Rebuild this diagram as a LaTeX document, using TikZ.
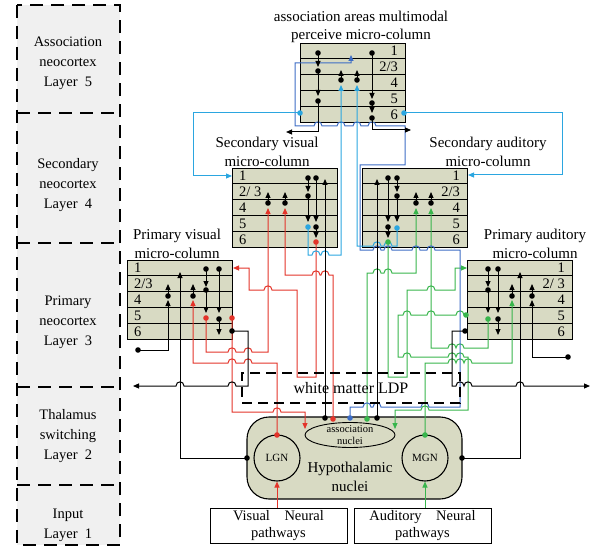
\documentclass[tikz,border=0pt]{standalone}
\usepackage{fontspec}
\setmainfont{Liberation Serif}
\usetikzlibrary{arrows.meta,shapes.geometric}
\definecolor{khaki}{HTML}{D8DAC3}
\definecolor{lgray}{HTML}{F0F0F0}
\definecolor{rd}{HTML}{E3342A}
\definecolor{gn}{HTML}{38B54C}
\definecolor{lb}{HTML}{2BA6E0}
\definecolor{db}{HTML}{3D6DC5}
\newcommand\hopR[2]{-- (#1-4,#2) .. controls (#1-4,#2-5.5) and (#1+4,#2-5.5) .. (#1+4,#2)}
\newcommand\hopL[2]{-- (#1+4,#2) .. controls (#1+4,#2-5.5) and (#1-4,#2-5.5) .. (#1-4,#2)}
\newcommand\dotA[3][black]{\fill[#1] (#2,#3) circle[radius=2.8pt];}
\newcommand\numf{\fontsize{14.5}{14.5}\selectfont}
\newcommand\mcol[3]{%
  \node[draw, line width=1.1pt, fill=khaki, minimum width=105pt, minimum height=79pt, anchor=north west] (#1) at (#2,#3) {};
  \foreach \k in {1,...,4} \draw[line width=0.9pt] (#2,#3+\k*15.8) -- (#2+105,#3+\k*15.8);}
\newcommand\labsL[3]{\foreach \t [count=\i] in {#3} \node[anchor=base west, font=\numf] at (#1+7,#2+\i*15.8-2.9) {\t};}
\newcommand\labsR[3]{\foreach \t [count=\i] in {#3} \node[anchor=base east, font=\numf] at (#1+98,#2+\i*15.8-2.9) {\t};}
\begin{document}
\begin{tikzpicture}[x=1pt,y=-1pt, >={Triangle[length=6pt,width=5pt]},
  w/.style={line width=1pt}, every node/.style={inner sep=0pt},
  lay/.style={align=center, font=\fontsize{14.5}{20}\selectfont},
  ttl/.style={align=center, font=\fontsize{15}{18.5}\selectfont}]
\useasboundingbox (0,0) rectangle (602,548);
% ---------- layer boxes
\fill[lgray] (17,5) rectangle (120,545);
\draw[line width=2.5pt, dash pattern=on 13pt off 8pt] (17,5) rectangle (120,545);
\foreach \yy in {113,243,387,485} \draw[line width=2.5pt, dash pattern=on 13pt off 8pt] (17,\yy) -- (120,\yy);
\node[lay] (L5) at (68,63) {Association\\neocortex\\Layer~~5};
\node[lay] (L4) at (68,185) {Secondary\\neocortex\\Layer~~4};
\node[lay] (L3) at (68,322) {Primary\\neocortex\\Layer~~3};
\node[lay] (L2) at (68,436) {Thalamus\\switching\\Layer~~2};
\node[lay] (L1) at (68,525) {Input\\Layer~~1};
% ---------- titles
\node[ttl] (tA) at (361,27) {association areas multimodal\\perceive micro-column};
\node[ttl] (tSV) at (267,152) {Secondary visual\\micro-column};
\node[ttl] (tSA) at (488,152) {Secondary auditory\\micro-column};
\node[ttl] (tPV) at (177,244) {Primary visual\\micro-column};
\node[ttl] (tPA) at (535,244) {Primary auditory\\micro-column};
% ---------- columns
\mcol{ac}{300}{43}
\mcol{sv}{232}{168}
\mcol{sa}{362}{168}
\mcol{pv}{127}{260}
\mcol{pa}{467}{260}
\labsR{300}{43}{1,{2/3},4,5,6}
\labsL{232}{168}{1,{2/ 3},4,5,6}
\labsR{362}{168}{1,{2/3},4,5,6}
\labsL{127}{260}{1,{2/3},4,5,6}
\labsR{467}{260}{1,{2/ 3},4,5,6}
% ---------- thalamus
\node[draw, line width=1.1pt, fill=khaki, rounded corners=22pt, minimum width=215pt, minimum height=82pt] (hypo) at (354.5,458) {};
\node[draw, ellipse, line width=0.9pt, minimum width=90pt, minimum height=25pt] (an) at (350,435) {};
\node[align=center, font=\fontsize{10.5}{12}\selectfont] at (an) {association\\nuclei};
\node[draw, circle, line width=1.1pt, minimum size=46pt, font=\fontsize{11}{11}\selectfont] (lgn) at (277,458) {LGN};
\node[draw, circle, line width=1.1pt, minimum size=46pt, font=\fontsize{11}{11}\selectfont] (mgn) at (425,458) {MGN};
\node[align=center, font=\fontsize{15}{19}\selectfont] (hn) at (350,477) {Hypothalamic\\nuclei};
\node[draw, line width=0.9pt, minimum width=137pt, minimum height=35pt, align=center, font=\fontsize{14.5}{17}\selectfont] (vis) at (278.5,525.5) {Visual\quad Neural\\pathways};
\node[draw, line width=0.9pt, minimum width=137pt, minimum height=35pt, align=center, font=\fontsize{14.5}{17}\selectfont] (aud) at (422.5,525.5) {Auditory\quad Neural\\pathways};
\draw[w,rd,->] (vis.north -| lgn) -- (lgn.south);
\draw[w,gn,->] (aud.north -| mgn) -- (mgn.south);
% ---------- red
\draw[w,rd,->] (277,435) -- (277,363) \hopL{248}{363} \hopL{232}{363} -- (193,363) -- (193,300);
\draw[w,rd,->] (206,318) -- (206,352) \hopR{232}{352} \hopR{248}{352} -- (268,352) -- (268,208);
\draw[w,rd,->] (232,318) -- (232,412) \hopR{277}{412} -- (305,412) -- (305,429);
\draw[w,rd,->] (333,419) -- (333,275) \hopL{325}{275} \hopL{316}{275} -- (285,275) -- (285,208);
\draw[w,rd,->] (316,242) -- (316,377) -- (297,377) -- (297,290) \hopL{268}{290} -- (249,290) -- (249,268) -- (233,268);
% ---------- green
\draw[w,gn,->] (425,435) -- (425,363) \hopR{452}{363} \hopR{460}{363} \hopR{468}{363} -- (512,363) -- (512,300);
\draw[w,gn,->] (488,319) -- (488,348) \hopL{460}{348} \hopL{452}{348} -- (431,348) -- (431,208);
\draw[w,gn,->] (466,315) \hopL{460}{315} \hopL{431}{315} \hopL{407}{315} -- (398,315) -- (398,357) \hopR{407}{357} \hopR{452}{357} \hopR{460}{357} -- (468,357) -- (468,410) \hopL{425}{410} -- (395,410) -- (395,429);
\draw[w,gn,->] (367,419) -- (367,273) \hopR{377}{273} \hopR{388}{273} -- (416,273) -- (416,208);
\draw[w,gn,->] (388,242) -- (388,377) -- (407,377) -- (407,290) \hopR{431}{290} -- (455,290) -- (455,268) -- (467,268);
% ---------- blue
\draw[w,db,->] (350,418) -- (350,407) \hopR{367}{407} \hopR{377}{407} \hopR{425}{407} -- (460,407) -- (460,250) \hopL{431}{250} \hopL{416}{250} \hopL{388}{250} \hopL{377}{250} -- (360,250) -- (360,165) -- (405,165) -- (405,126) \hopL{372}{126} \hopL{357}{126} \hopL{341}{126} \hopL{318}{126} -- (295,126) -- (295,63) -- (351,63) -- (351,55);
\draw[w,lb,->] (300,113) -- (193,113) -- (193,176) -- (232,176);
\draw[w,lb,->] (404,113) -- (562,113) -- (562,175) -- (468,175);
\draw[w,lb,->] (308,227) -- (308,255) \hopR{316}{255} \hopR{325}{255} -- (341,255) -- (341,85);
\draw[w,lb,->] (397,228) -- (397,246) \hopL{388}{246} \hopL{377}{246} -- (357,246) -- (357,85);
% ---------- black wires
\draw[w,->] (247,458) -- (180,458) -- (180,272);
\draw[w,->] (462,458) -- (520,458) -- (520,272);
\draw[w,->] (325,418) -- (325,179);
\draw[w,->] (377,418) -- (377,179);
\draw[w,->] (232,331) -- (248,331) -- (248,386) \hopL{232}{386} \hopL{180}{386} -- (133,386);
\draw[w,->] (465,331) -- (452,331) -- (452,386) \hopR{460}{386} \hopR{468}{386} \hopR{520}{386} -- (590,386);
\draw[w,->] (138,350) -- (168,350) -- (168,300);
\draw[w,->] (568,357) -- (532,357) -- (532,300);
\draw[w,->] (318,101) -- (318,132) -- (286,132);
\draw[w,->] (372,118) -- (372,130) -- (411,130);
% ---------- column internals
% association
\draw[w,->] (318,53) -- (318,67); \draw[w,->] (318,71) -- (318,96);
\draw[w,->] (372,53) -- (372,99); \draw[w,->] (372,103) -- (372,113);
\draw[w,->] (341,80) -- (341,70); \draw[w,->] (357,80) -- (357,70);
\dotA{318}{53}\dotA{318}{71}\dotA{318}{101}\dotA{372}{53}\dotA{372}{103}\dotA{372}{118}\dotA{341}{80}\dotA{357}{80}
\dotA[lb]{300}{113}\dotA[lb]{404}{113}
% secondary visual
\draw[w,->] (268,203) -- (268,192); \draw[w,->] (285,203) -- (285,192);
\draw[w,->] (308,178) -- (308,192); \draw[w,->] (308,196) -- (308,222);
\draw[w,->] (316,178) -- (316,222); \draw[w,->] (316,227) -- (316,238);
\dotA{268}{203}\dotA{285}{203}\dotA{308}{178}\dotA{308}{196}\dotA{316}{178}\dotA{316}{227}
\dotA[lb]{308}{227}\dotA[rd]{316}{242}
% secondary auditory
\draw[w,->] (416,203) -- (416,192); \draw[w,->] (431,203) -- (431,192);
\draw[w,->] (397,178) -- (397,192); \draw[w,->] (397,196) -- (397,222);
\draw[w,->] (388,178) -- (388,222); \draw[w,->] (388,227) -- (388,238);
\dotA{416}{203}\dotA{431}{203}\dotA{397}{178}\dotA{397}{196}\dotA{388}{178}\dotA{388}{227}
\dotA[lb]{397}{228}\dotA[gn]{388}{242}
% primary visual
\draw[w,->] (168,296) -- (168,284); \draw[w,->] (193,296) -- (193,284);
\draw[w,->] (206,269) -- (206,287); \draw[w,->] (206,290) -- (206,313);
\draw[w,->] (219,269) -- (219,313); \draw[w,->] (219,319) -- (219,335);
\dotA{168}{296}\dotA{193}{296}\dotA{206}{269}\dotA{206}{290}\dotA{219}{269}\dotA{219}{319}
\dotA[rd]{206}{318}\dotA[rd]{232}{318}\dotA{232}{331}\dotA{138}{350}
% primary auditory
\draw[w,->] (512,296) -- (512,284); \draw[w,->] (532,296) -- (532,284);
\draw[w,->] (488,269) -- (488,287); \draw[w,->] (488,290) -- (488,313);
\draw[w,->] (498,269) -- (498,313); \draw[w,->] (498,319) -- (498,335);
\dotA{512}{296}\dotA{532}{296}\dotA{488}{269}\dotA{488}{290}\dotA{498}{269}\dotA{498}{319}
\dotA[gn]{488}{319}\dotA[gn]{466}{315}\dotA{465}{331}\dotA{568}{357}
% thalamus dots
\dotA{247}{458}\dotA{462}{458}\dotA{325}{418}\dotA{377}{418}
\dotA[rd]{333}{419}\dotA[gn]{367}{419}\dotA[db]{350}{418}
\dotA[rd]{277}{435}\dotA[gn]{425}{435}
% ---------- white matter
\node[draw, line width=2.4pt, dash pattern=on 10pt off 6pt, minimum width=218pt, minimum height=30pt] (wm) at (351,388) {};
\node[font=\fontsize{16}{16}\selectfont] (wmt) at (351,388) {white matter LDP};
\end{tikzpicture}
\end{document}
